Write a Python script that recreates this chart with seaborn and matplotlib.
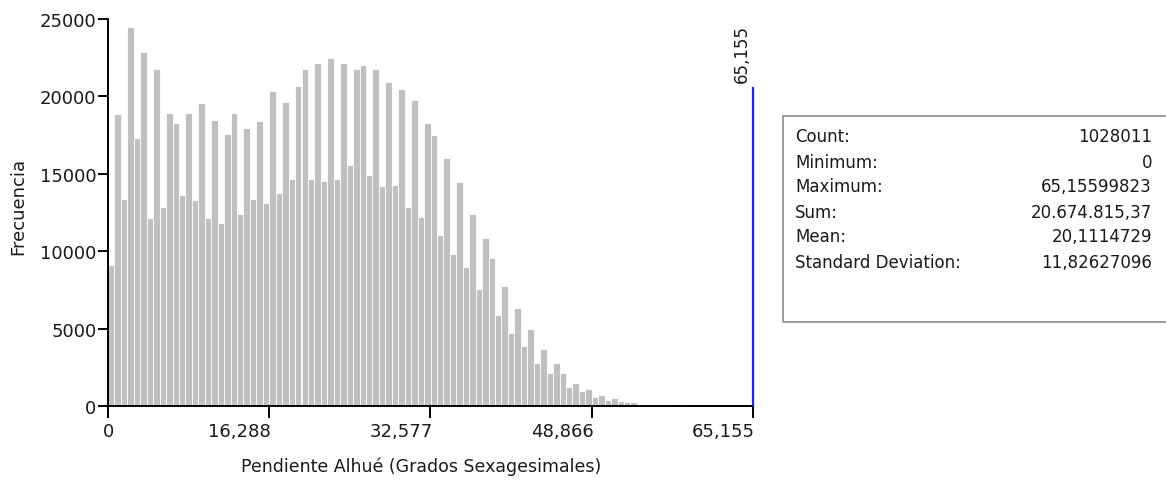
import matplotlib
matplotlib.use('Agg')
import numpy as np
import pandas as pd
import matplotlib.pyplot as plt
import seaborn as sns
from matplotlib.patches import Rectangle
from matplotlib.transforms import ScaledTranslation

# histogram counts (100 bins between 0 and 65.155)
slope_max = 65.155
counts = [9100, 18850, 13400, 24500, 17300, 22850, 12150, 21800, 12850, 18950,
          18300, 13650, 18950, 13300, 19550, 12150, 18500, 11850, 17600, 18950,
          12400, 17950, 13400, 18400, 13100, 20350, 13750, 19650, 14650, 20650,
          21800, 14650, 22150, 14550, 22500, 14650, 22150, 15600, 21800, 22050,
          14900, 21800, 14200, 20900, 14300, 20450, 12850, 19750, 12200, 18300,
          17500, 11050, 16000, 9800, 14450, 9000, 12400, 7550, 10850, 9550,
          5850, 7750, 4700, 6300, 3900, 4950, 2750, 3700, 2150, 2750,
          2150, 1250, 1500, 950, 1080, 600, 730, 380, 500, 340,
          280, 260, 160, 150, 140, 130, 130, 150, 60, 150,
          40, 30, 25, 20, 15, 12, 8, 5, 3, 2]
x_ticks = [0, 16.288, 32.577, 48.866, 65.155]
x_tick_labels = ['0', '16,288', '32,577', '48,866', '65,155']
y_ticks = [0, 5000, 10000, 15000, 20000, 25000]

stat_names = ['Count:', 'Minimum:', 'Maximum:', 'Sum:', 'Mean:', 'Standard Deviation:']
stat_values = ['1028011', '0', '65,15599823', '20.674.815,37', '20,1114729', '11,82627096']

sns.set_style('white')
plt.rcParams['font.family'] = ['DejaVu Sans']

W, H = 1166, 481
fig = plt.figure(figsize=(W / 100, H / 100), dpi=100)
ax = fig.add_axes([108 / W, 1 - 407 / H, 645 / W, 387 / H])

edges = np.linspace(0, slope_max, len(counts) + 1)
df = pd.DataFrame({'slope': (edges[:-1] + edges[1:]) / 2, 'freq': counts})
sns.histplot(data=df, x='slope', weights='freq', bins=list(edges), color='#c0c0c0',
             alpha=1, edgecolor='white', linewidth=0.6, ax=ax)

ax.set_xlim(0, slope_max)
ax.set_ylim(0, 25000)
ax.set_xticks(x_ticks)
ax.set_xticklabels(x_tick_labels)
ax.set_yticks(y_ticks)
ax.set_xlabel('')
ax.set_ylabel('')
sns.despine(ax=ax)
for s in ['left', 'bottom']:
    ax.spines[s].set_color('black')
    ax.spines[s].set_linewidth(1.4)
ax.tick_params(axis='x', bottom=True, direction='out', length=8.6, width=1.4,
               labelsize=13, pad=3, colors='black', labelcolor='#1a1a1a')
ax.tick_params(axis='y', left=True, direction='out', length=7.2, width=1.4,
               labelsize=13, pad=1, colors='black', labelcolor='#1a1a1a')
# tick labels sit to the left of their tick, except the zero
for lab in ax.get_xticklabels()[1:]:
    lab.set_horizontalalignment('right')
    lab.set_transform(lab.get_transform() + ScaledTranslation(2 / 100, 0, fig.dpi_scale_trans))

# max marker
ax.vlines(slope_max, 0, 20600, color='#2020ff', lw=1.6, zorder=5, clip_on=False)
ax.text(64.0, 20900, '65,155', rotation=90, ha='center', va='bottom',
        fontsize=12, color='#1a1a1a')

fig.text(18 / W, 1 - 206 / H, 'Frecuencia', rotation=90, ha='center', va='center',
         fontsize=13, color='#1a1a1a')
fig.text(421 / W, 1 - 467 / H, 'Pendiente Alhué (Grados Sexagesimales)',
         ha='center', va='center', fontsize=12.5, color='#1a1a1a')

# statistics box
fig.patches.append(Rectangle((783 / W, 1 - 323 / H), 400 / W, 206 / H,
                             transform=fig.transFigure, fill=False,
                             edgecolor='#8c8c8c', lw=1.2))
rows_y = [137, 163, 187, 213, 237, 263]
for name, val, yy in zip(stat_names, stat_values, rows_y):
    fig.text(795 / W, 1 - yy / H, name, ha='left', va='center', fontsize=12, color='#1a1a1a')
    fig.text(1152 / W, 1 - yy / H, val, ha='right', va='center', fontsize=12, color='#1a1a1a')

fig.savefig('out.png', dpi=100, facecolor='white')
